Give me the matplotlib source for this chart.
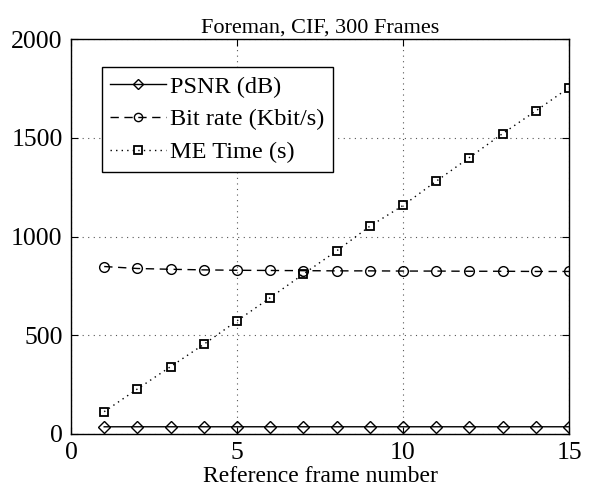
import numpy as np
import matplotlib.pyplot as plt

plt.rcParams['font.family'] = 'Liberation Serif'

# reference frame numbers
frames = np.arange(1, 16)
psnr = [36.5, 36.6, 36.6, 36.6, 36.6, 36.6, 36.6, 36.6, 36.6, 36.6, 36.6, 36.6, 36.6, 36.6, 36.6]
bitrate = [848, 838, 834, 831, 829, 828, 827, 826, 826, 825, 825, 824, 824, 823, 823]
me_time = [113, 228, 341, 454, 573, 690, 810, 927, 1052, 1157, 1280, 1400, 1521, 1636, 1754]

fig = plt.figure(figsize=(5.94, 5.00), dpi=100)
ax = fig.add_axes([0.1195, 0.132, 0.8385, 0.79])

ax.plot(frames, psnr, '-', color='black', linewidth=1.0, marker='D', markersize=6.5,
        markerfacecolor='none', markeredgecolor='black', markeredgewidth=1.0, label='PSNR (dB)')
ax.plot(frames, bitrate, color='black', linewidth=1.0, dashes=(6, 4), marker='o', markersize=7,
        markerfacecolor='none', markeredgecolor='black', markeredgewidth=1.0, label='Bit rate (Kbit/s)')
ax.plot(frames, me_time, color='black', linewidth=1.0, dashes=(1, 3), marker='s', markersize=6,
        markerfacecolor='none', markeredgecolor='black', markeredgewidth=1.3, label='ME Time (s)')

ax.set_xlim(0, 15)
ax.set_ylim(0, 2000)
ax.set_xticks([0, 5, 10, 15])
ax.set_yticks([0, 500, 1000, 1500, 2000])
ax.tick_params(direction='in', top=True, right=True, labelsize=18.5, length=5, pad=6)
ax.grid(True, color='#555555', linestyle=(0, (1, 4)), linewidth=0.8)
for s in ax.spines.values():
    s.set_linewidth(1.0)

ax.set_title('Foreman, CIF, 300 Frames', fontsize=16, pad=5)
ax.set_xlabel('Reference frame number', fontsize=17, labelpad=1)

leg = ax.legend(loc='upper left', bbox_to_anchor=(0.062, 0.929), fontsize=17.5, frameon=True,
                fancybox=False, edgecolor='black', framealpha=1, borderaxespad=0,
                handlelength=2.3, handletextpad=0.15, labelspacing=0.45, borderpad=0.35,
                markerscale=0.85)
leg.get_frame().set_linewidth(1.0)

fig.savefig('out.png', dpi=100)
